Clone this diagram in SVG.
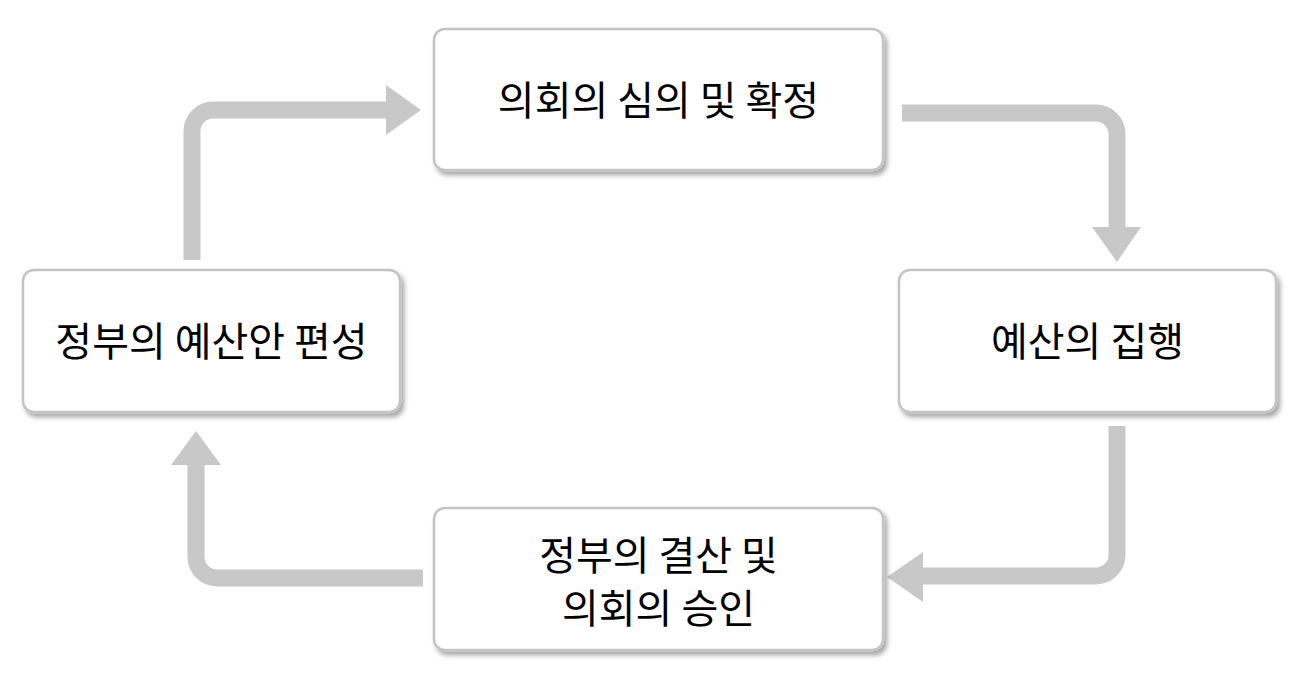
<svg xmlns="http://www.w3.org/2000/svg" width="1299" height="673" viewBox="0 0 1299 673">
<defs>
<filter id="sh" x="-10%" y="-10%" width="125%" height="130%">
<feDropShadow dx="3" dy="4" stdDeviation="2.5" flood-color="#000" flood-opacity="0.35"/>
</filter>
</defs>
<style>
.box{fill:#fff;stroke:#c4c4c4;stroke-width:2.5;filter:url(#sh)}
.lbl{font-family:"Noto Sans CJK KR","Noto Sans",sans-serif;font-size:40px;font-weight:400;fill:#000;text-anchor:middle;dominant-baseline:central}
.ln{fill:none;stroke:#c8c8c8;stroke-width:17}
.hd{fill:#c8c8c8}
</style>
<rect width="1299" height="673" fill="#fff"/>
<g id="connectors">
<path class="ln" d="M192 260 V131 A21 21 0 0 1 213 110 H388"/>
<polygon class="hd" points="386,85 421,110 386,135"/>
<path class="ln" d="M902 113 H1096 A21 21 0 0 1 1117 134 V229"/>
<polygon class="hd" points="1092,227 1141,227 1117,262"/>
<path class="ln" d="M1117 426 V555 A21 21 0 0 1 1096 576 H921"/>
<polygon class="hd" points="923,552 887,577 923,602"/>
<path class="ln" d="M423 578 H217 A21 21 0 0 1 196 557 V463"/>
<polygon class="hd" points="171,465 196,431 221,465"/>
</g>
<g id="n1">
<rect class="box" x="434" y="29" width="449" height="141" rx="11"/>
<text class="lbl" x="658.5" y="98">의회의 심의 및 확정</text>
</g>
<g id="n2">
<rect class="box" x="899" y="270" width="377" height="142" rx="11"/>
<text class="lbl" x="1087.5" y="339">예산의 집행</text>
</g>
<g id="n3">
<rect class="box" x="434" y="508" width="449" height="142" rx="11"/>
<text class="lbl" x="658.5" y="553">정부의 결산 및</text>
<text class="lbl" x="658.5" y="606">의회의 승인</text>
</g>
<g id="n4">
<rect class="box" x="23" y="270" width="377" height="142" rx="11"/>
<text class="lbl" x="211.5" y="339">정부의 예산안 편성</text>
</g>
</svg>
